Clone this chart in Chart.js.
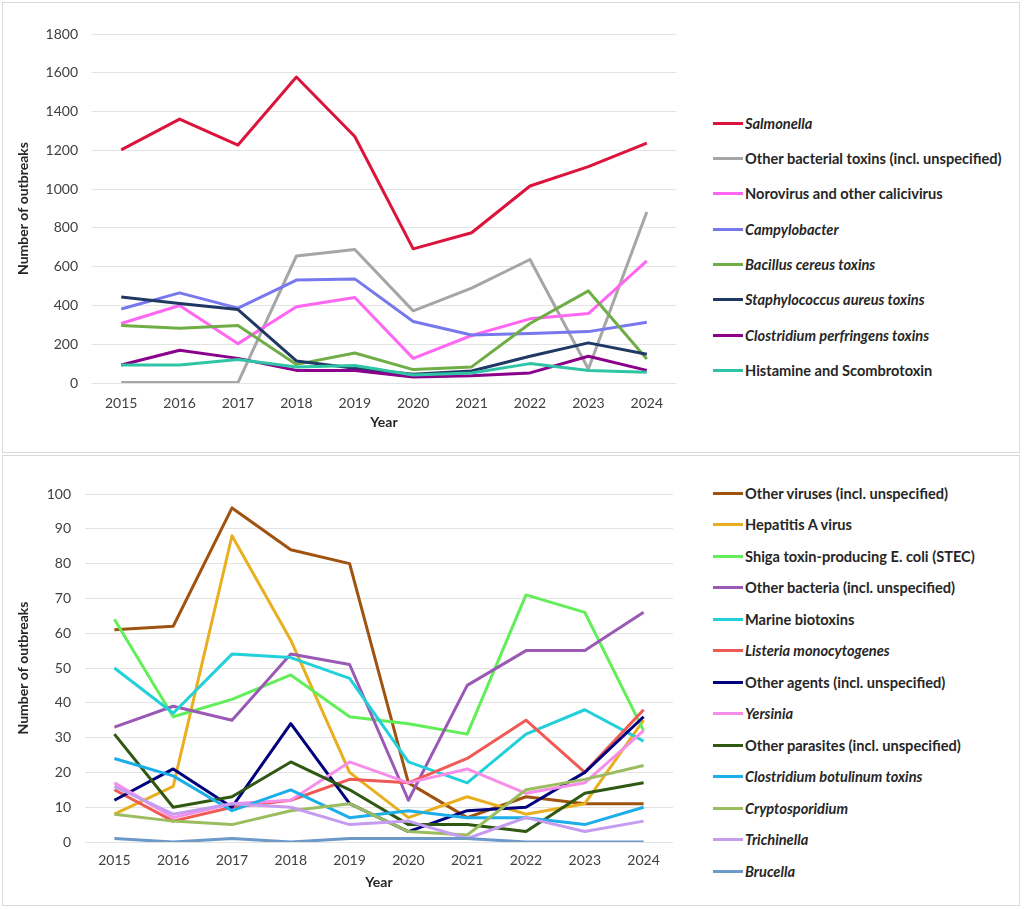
<!DOCTYPE html>
<html>
<head>
<meta charset="utf-8">
<script src="https://cdn.jsdelivr.net/npm/chart.js@4.4.1/dist/chart.umd.min.js"></script>
<style>
  body { margin: 0; background: #fff; font-family: Lato, "Open Sans", sans-serif; }
  .panel { position: absolute; left: 2px; width: 1018px; border: 1px solid #dadada; box-sizing: border-box; }
  #panelTop { top: 2px; height: 451px; }
  #panelBottom { top: 455px; height: 451px; }
  .box { position: absolute; left: 0; width: 690px; height: 452px; }
  #boxTop { top: 0; }
  #boxBottom { top: 454px; }
  .item { position: absolute; left: 713px; height: 18px; display: flex; align-items: center;
          font-size: 14.6px; font-weight: 700; color: #262626; white-space: nowrap; }
  .item .sw { width: 30px; height: 3px; margin-right: 2px; }
  .item.it { font-style: italic; }
</style>
</head>
<body>
<div class="panel" id="panelTop"></div>
<div class="panel" id="panelBottom"></div>
<div class="box" id="boxTop"><canvas id="chartTop"></canvas></div>
<div class="box" id="boxBottom"><canvas id="chartBottom"></canvas></div>
<div id="legendTop"></div>
<div id="legendBottom"></div>
<script>
const years = ['2015', '2016', '2017', '2018', '2019', '2020', '2021', '2022', '2023', '2024'];

// top panel
const salmonella   = [1202, 1361, 1227, 1578, 1271, 692, 775, 1016, 1116, 1237];
const otherBactTox = [3, 3, 2, 655, 689, 372, 489, 637, 72, 882];
const norovirus    = [307, 400, 203, 393, 441, 127, 245, 331, 358, 630];
const campylo      = [382, 465, 386, 531, 537, 317, 248, 255, 265, 313];
const bacillus     = [296, 282, 296, 96, 155, 69, 83, 307, 475, 124];
const staph        = [444, 410, 379, 114, 76, 45, 62, 138, 207, 148];
const perfringens  = [93, 169, 127, 65, 65, 31, 38, 52, 138, 65];
const histamine    = [93, 93, 121, 83, 90, 41, 52, 100, 65, 55];

const topNames = ['Salmonella', 'Other bacterial toxins (incl. unspecified)', 'Norovirus and other calicivirus',
  'Campylobacter', 'Bacillus cereus toxins', 'Staphylococcus aureus toxins', 'Clostridium perfringens toxins',
  'Histamine and Scombrotoxin'];
const topSeries = [salmonella, otherBactTox, norovirus, campylo, bacillus, staph, perfringens, histamine];
const topColors = ['#dc143c', '#a6a6a6', '#ff66f2', '#7878ee', '#70ad47', '#203864', '#8b008b', '#2fc4a5'];
const topItalic = [true, false, false, true, true, true, true, false];

// bottom panel
const otherViruses = [61, 62, 96, 84, 80, 17, 7, 13, 11, 11];
const hepatitisA   = [8, 16, 88, 58, 20, 7, 13, 8, 11, 35];
const stec         = [64, 36, 41, 48, 36, 34, 31, 71, 66, 32];
const otherBact    = [33, 39, 35, 54, 51, 12, 45, 55, 55, 66];
const marine       = [50, 37, 54, 53, 47, 23, 17, 31, 38, 29];
const listeria     = [15, 6, 10, 12, 18, 17, 24, 35, 20, 38];
const otherAgents  = [12, 21, 10, 34, 11, 3, 9, 10, 20, 36];
const yersinia     = [17, 7, 11, 12, 23, 17, 21, 14, 17, 32];
const otherParas   = [31, 10, 13, 23, 15, 5, 5, 3, 14, 17];
const botulinum    = [24, 19, 9, 15, 7, 9, 7, 7, 5, 10];
const crypto       = [8, 6, 5, 9, 11, 3, 2, 15, 18, 22];
const trichinella  = [16, 8, 11, 10, 5, 6, 1, 7, 3, 6];
const brucella     = [1, 0, 1, 0, 1, 1, 1, 0, 0, 0];

const bottomNames = ['Other viruses (incl. unspecified)', 'Hepatitis A virus', 'Shiga toxin-producing E. coli (STEC)',
  'Other bacteria (incl. unspecified)', 'Marine biotoxins', 'Listeria monocytogenes', 'Other agents (incl. unspecified)',
  'Yersinia', 'Other parasites (incl. unspecified)', 'Clostridium botulinum toxins', 'Cryptosporidium', 'Trichinella', 'Brucella'];
const bottomSeries = [otherViruses, hepatitisA, stec, otherBact, marine, listeria, otherAgents,
  yersinia, otherParas, botulinum, crypto, trichinella, brucella];
const bottomColors = ['#a0520f', '#e8b020', '#62ee58', '#9b59b6', '#22d0da', '#f05a55', '#00007d',
  '#f68ee9', '#2f5812', '#1caee8', '#9cbc60', '#c69cf0', '#6d99c9'];
const bottomItalic = [false, false, false, false, false, true, false, true, false, true, true, true, true];

function makeChart(id, names, series, colors, yMax, yStep, o) {
  const n = series.length;
  const datasets = series.map((d, i) => ({
    label: names[i],
    data: d,
    borderColor: colors[i],
    backgroundColor: colors[i],
    borderWidth: 3,
    pointRadius: 0,
    tension: 0,
    borderJoinStyle: 'round',
    order: n - i
  }));
  return new Chart(document.getElementById(id), {
    type: 'line',
    data: { labels: years, datasets: datasets },
    options: {
      responsive: true,
      maintainAspectRatio: false,
      animation: false,
      layout: { padding: { top: o.top, right: o.right, left: 0, bottom: 0 } },
      plugins: { legend: { display: false }, tooltip: { enabled: false } },
      scales: {
        x: {
          offset: true,
          grid: { display: false },
          border: { display: false },
          ticks: { color: '#404040', font: { family: 'Lato', size: 14 }, padding: o.xPad, maxRotation: 0 },
          title: { display: true, text: 'Year', color: '#262626', font: { family: 'Lato', size: 14, weight: 'bold' },
                   padding: { top: 0, bottom: o.yearPad } },
          afterFit: s => { s.height = o.xH; }
        },
        y: {
          min: 0, max: yMax,
          ticks: { stepSize: yStep, color: '#404040', font: { family: 'Lato', size: 14 }, padding: 14,
                   callback: v => String(v) },
          grid: { color: '#e3e3e3', lineWidth: 1, drawTicks: false },
          border: { display: false },
          title: { display: true, text: 'Number of outbreaks', color: '#262626',
                   font: { family: 'Lato', size: 14, weight: 'bold' }, padding: { top: 15, bottom: 0 } },
          afterFit: s => { s.width = o.yW; }
        }
      }
    }
  });
}

makeChart('chartTop', topNames, topSeries, topColors, 1800, 200,
  { top: 34, right: 14, xH: 69, yW: 92, yearPad: 21, xPad: 4 });
makeChart('chartBottom', bottomNames, bottomSeries, bottomColors, 100, 10,
  { top: 40, right: 17, xH: 64, yW: 85, yearPad: 15, xPad: 2 });

function makeLegend(id, names, colors, italic, y0, step) {
  const box = document.getElementById(id);
  names.forEach((name, i) => {
    const el = document.createElement('div');
    el.className = 'item' + (italic[i] ? ' it' : '');
    el.style.top = (y0 + i * step - 9) + 'px';
    const sw = document.createElement('span');
    sw.className = 'sw';
    sw.style.background = colors[i];
    const tx = document.createElement('span');
    tx.textContent = name;
    el.appendChild(sw);
    el.appendChild(tx);
    box.appendChild(el);
  });
}

makeLegend('legendTop', topNames, topColors, topItalic, 123.3, 35.3);
makeLegend('legendBottom', bottomNames, bottomColors, bottomItalic, 493.3, 31.5);
</script>
</body>
</html>
